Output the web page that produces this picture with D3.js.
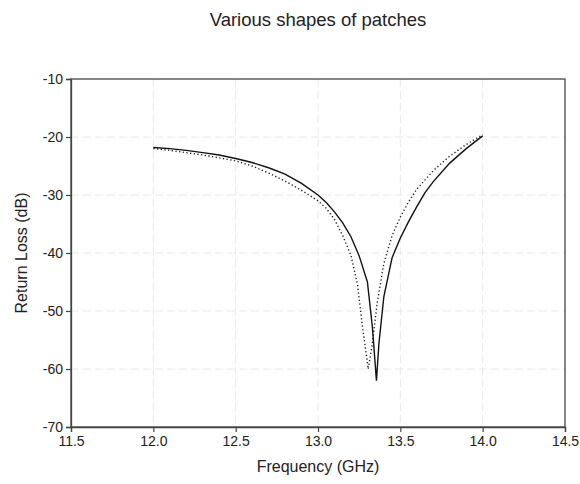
<!DOCTYPE html>
<html>
<head>
<meta charset="utf-8">
<script src="https://cdn.jsdelivr.net/npm/d3@7"></script>
<style>
    body { margin: 0; background: #fff; }
    text { font-family: "Liberation Sans", Arial, sans-serif; fill: #222; }
</style>
</head>
<body>
<div id="graph"></div>
<script>
'use strict';

// solid curve
const solidFreq = [12.0, 12.1, 12.2, 12.3, 12.4, 12.5, 12.6, 12.7, 12.8, 12.9, 13.0, 13.05, 13.1, 13.15, 13.2, 13.25, 13.3, 13.33, 13.355, 13.37, 13.4, 13.45, 13.5, 13.55, 13.6, 13.65, 13.7, 13.8, 13.9, 14.0];
const solidRL = [-21.8, -22.0, -22.3, -22.7, -23.1, -23.7, -24.4, -25.3, -26.4, -28.0, -30.0, -31.3, -32.9, -34.8, -37.2, -40.5, -45.0, -52.7, -62.0, -55.6, -47.5, -40.8, -37.4, -34.6, -32.0, -29.6, -27.7, -24.5, -22.0, -19.8];

// dotted curve
const dottedFreq = [12.0, 12.1, 12.2, 12.3, 12.4, 12.5, 12.6, 12.7, 12.8, 12.9, 13.0, 13.05, 13.1, 13.15, 13.2, 13.24, 13.27, 13.305, 13.33, 13.36, 13.4, 13.45, 13.5, 13.55, 13.6, 13.7, 13.8, 13.9, 14.0];
const dottedRL = [-22.0, -22.3, -22.7, -23.1, -23.6, -24.1, -25.0, -26.2, -27.6, -29.2, -31.0, -32.3, -34.2, -37.0, -40.4, -45.5, -52.7, -60.0, -55.6, -48.5, -41.8, -37.0, -33.8, -31.2, -29.0, -25.8, -23.3, -21.3, -19.6];

const xTicks = [11.5, 12.0, 12.5, 13.0, 13.5, 14.0, 14.5];
const yTicks = [-10, -20, -30, -40, -50, -60, -70];

const measurements = {
    width: 580,
    height: 484,
    left: 71,
    right: 565,
    top: 79,
    bottom: 427
};

let svg = d3.select('#graph')
    .append('svg')
    .attr('width', measurements.width)
    .attr('height', measurements.height);

let xScale = d3.scaleLinear()
    .domain([11.5, 14.5])
    .range([measurements.left, measurements.right]);

let yScale = d3.scaleLinear()
    .domain([-70, -10])
    .range([measurements.bottom, measurements.top]);

// dashed grid
svg.append('g')
    .selectAll('line')
    .data(xTicks.slice(1, -1))
    .enter()
    .append('line')
    .attr('x1', d => xScale(d))
    .attr('x2', d => xScale(d))
    .attr('y1', measurements.top)
    .attr('y2', measurements.bottom)
    .attr('stroke', '#e8e8e8')
    .attr('stroke-dasharray', '8,4');

svg.append('g')
    .selectAll('line')
    .data(yTicks.slice(1, -1))
    .enter()
    .append('line')
    .attr('x1', measurements.left)
    .attr('x2', measurements.right)
    .attr('y1', d => yScale(d))
    .attr('y2', d => yScale(d))
    .attr('stroke', '#e8e8e8')
    .attr('stroke-dasharray', '8,4');

// frame
svg.append('rect')
    .attr('x', measurements.left)
    .attr('y', measurements.top)
    .attr('width', measurements.right - measurements.left)
    .attr('height', measurements.bottom - measurements.top)
    .attr('fill', 'none')
    .attr('stroke', '#444')
    .attr('stroke-width', 1.3);

// axes (plain hyphen for negatives, like the original)
let xAxis = d3.axisBottom(xScale)
    .tickValues(xTicks)
    .tickFormat(d => d.toFixed(1))
    .tickSizeOuter(0)
    .tickSize(5)
    .tickPadding(4);

let gx = svg.append('g')
    .attr('transform', 'translate(0,' + measurements.bottom + ')')
    .call(xAxis);

let yAxis = d3.axisLeft(yScale)
    .tickValues(yTicks)
    .tickFormat(d => String(d))
    .tickSizeOuter(0)
    .tickSize(5)
    .tickPadding(3);

let gy = svg.append('g')
    .attr('transform', 'translate(' + measurements.left + ',0)')
    .call(yAxis);

[gx, gy].forEach(g => {
    g.select('.domain').attr('stroke', '#444').attr('stroke-width', 1.3);
    g.selectAll('.tick line').attr('stroke', '#444').attr('stroke-width', 1.2);
    g.selectAll('.tick text')
        .attr('font-size', 14)
        .attr('font-family', '"Liberation Sans", Arial, sans-serif')
        .attr('fill', '#222');
});

// curves
let line = d3.line()
    .x(d => xScale(d[0]))
    .y(d => yScale(d[1]));

svg.append('path')
    .datum(dottedFreq.map((f, i) => [f, dottedRL[i]]))
    .attr('d', line)
    .attr('fill', 'none')
    .attr('stroke', '#222')
    .attr('stroke-width', 1.4)
    .attr('stroke-dasharray', '1.3,2.4');

svg.append('path')
    .datum(solidFreq.map((f, i) => [f, solidRL[i]]))
    .attr('d', line)
    .attr('fill', 'none')
    .attr('stroke', '#111')
    .attr('stroke-width', 1.4);

// labels
let midX = (measurements.left + measurements.right) / 2;
let midY = (measurements.top + measurements.bottom) / 2;

svg.append('text')
    .attr('x', midX)
    .attr('y', 26)
    .attr('text-anchor', 'middle')
    .attr('font-size', 18.5)
    .text('Various shapes of patches');

svg.append('text')
    .attr('x', midX)
    .attr('y', 472)
    .attr('text-anchor', 'middle')
    .attr('font-size', 16)
    .text('Frequency (GHz)');

svg.append('text')
    .attr('transform', 'translate(27,' + midY + ')rotate(-90)')
    .attr('text-anchor', 'middle')
    .attr('font-size', 16)
    .text('Return Loss (dB)');
</script>
</body>
</html>
